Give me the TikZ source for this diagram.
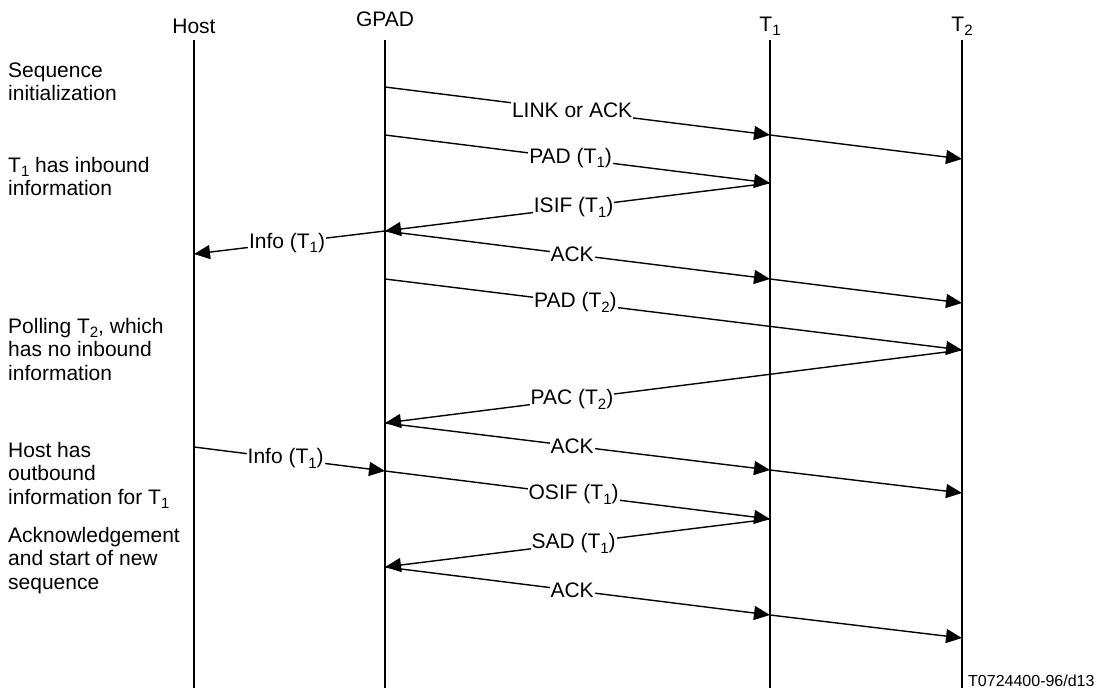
\documentclass[tikz,border=0pt]{standalone}
\usepackage{fontspec}
\setmainfont{Liberation Sans}
\usetikzlibrary{arrows.meta}
\newcommand{\sbs}[1]{\raisebox{-4.5pt}{\fontsize{15}{15}\selectfont #1}}
\tikzset{
  lifeline/.style={line width=1.4pt},
  msg/.style={line width=1.4pt,-{Triangle[length=16pt,width=14pt]}},
  lbl/.style={fill=white,inner sep=1pt,font=\fontsize{21}{23.5}\selectfont},
  head/.style={anchor=base,inner sep=0pt,font=\fontsize{21}{23.5}\selectfont},
  note/.style={anchor=base west,align=left,inner sep=0pt,font=\fontsize{21}{23.5}\selectfont},
}
\begin{document}
\begin{tikzpicture}[x=1pt,y=-1pt]
\useasboundingbox (0,0) rectangle (1098,688);
% heads
\node[head] (host) at (194,33) {Host};
\node[head] (gpad) at (385,27) {GPAD};
\node[head] (t1) at (770,31) {T\sbs{1}};
\node[head] (t2) at (962,31) {T\sbs{2}};
% lifelines
\coordinate (Htop) at (194,40); \coordinate (Hbot) at (194,688);
\coordinate (Gtop) at (385,40); \coordinate (Gbot) at (385,688);
\coordinate (Atop) at (770,40); \coordinate (Abot) at (770,688);
\coordinate (Btop) at (962,40); \coordinate (Bbot) at (962,688);
\draw[lifeline] (Htop) -- (Hbot);
\draw[lifeline] (Gtop) -- (Gbot);
\draw[lifeline] (Atop) -- (Abot);
\draw[lifeline] (Btop) -- (Bbot);
% message end points
\coordinate (g1) at (385,87);  \coordinate (a1) at (770,135); \coordinate (b1) at (962,159);
\coordinate (g2) at (385,135); \coordinate (a2) at (770,183);
\coordinate (g3) at (385,231); \coordinate (h3) at (194,254);
\coordinate (a5) at (770,279); \coordinate (b5) at (962,303);
\coordinate (g6) at (385,279); \coordinate (b6) at (962,350);
\coordinate (g7) at (385,423); \coordinate (a8) at (770,470); \coordinate (b8) at (962,493);
\coordinate (h9) at (194,447); \coordinate (g9) at (385,471);
\coordinate (a10) at (770,519);
\coordinate (g11) at (385,567); \coordinate (a12) at (770,615); \coordinate (b12) at (962,638);
% messages
\draw[msg] (g1) -- node[lbl,pos=0.486] (m1) {LINK or ACK} (a1);
\draw[msg] (a1) -- (b1);
\draw[msg] (g2) -- node[lbl,pos=0.482] (m2) {PAD (T\sbs{1})} (a2);
\draw[msg] (a2) -- node[lbl,pos=0.51] (m3) {ISIF (T\sbs{1})} (g3);
\draw[msg] (g3) -- node[lbl,pos=0.513] (m4) {Info (T\sbs{1})} (h3);
\draw[msg] (g3) -- node[lbl,pos=0.486] (m5) {ACK} (a5);
\draw[msg] (a5) -- (b5);
\draw[msg] (g6) -- node[lbl,pos=0.33] (m6) {PAD (T\sbs{2})} (b6);
\draw[msg] (b6) -- node[lbl,pos=0.676] (m7) {PAC (T\sbs{2})} (g7);
\draw[msg] (g7) -- node[lbl,pos=0.486] (m8) {ACK} (a8);
\draw[msg] (a8) -- (b8);
\draw[msg] (h9) -- node[lbl,pos=0.48] (m9) {Info (T\sbs{1})} (g9);
\draw[msg] (g9) -- node[lbl,pos=0.49] (m10) {OSIF (T\sbs{1})} (a10);
\draw[msg] (a10) -- node[lbl,pos=0.51] (m11) {SAD (T\sbs{1})} (g11);
\draw[msg] (g11) -- node[lbl,pos=0.486] (m12) {ACK} (a12);
\draw[msg] (a12) -- (b12);
% notes (anchor = baseline of last line)
\node[note] (n1) at (8,100.5) {Sequence\\initialization};
\node[note] (n2) at (8,195.5) {T\sbs{1} has inbound\\information};
\node[note] (n3) at (8,380) {Polling T\sbs{2}, which\\has no inbound\\information};
\node[note] (n4) at (8,504) {Host has\\outbound\\information for T\sbs{1}};
\node[note] (n5) at (8,589) {Acknowledgement\\and start of new\\sequence};
\node[anchor=base west,inner sep=0pt,font=\fontsize{16}{18}\selectfont] (fig) at (968,686) {T0724400-96/d13};
\end{tikzpicture}
\end{document}
